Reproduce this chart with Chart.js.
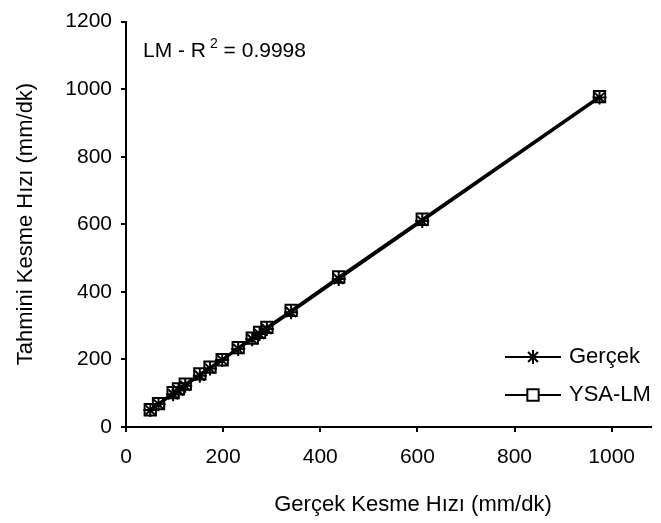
<!DOCTYPE html>
<html>
<head>
<meta charset="utf-8">
<script src="https://cdn.jsdelivr.net/npm/chart.js@4.4.1/dist/chart.umd.min.js"></script>
<style>
  html, body { margin: 0; padding: 0; background: #fff; }
  #wrap { width: 661px; height: 523px; }
</style>
</head>
<body>
<div id="wrap"><canvas id="chart" width="661" height="523"></canvas></div>
<script>
// Data
const actual = [50, 67, 97, 108, 122, 152, 173, 198, 231, 260, 275, 290, 340, 438, 610, 975];
const ysaLM = [51, 69, 102, 113, 127, 157, 177, 199, 235, 263, 280, 295, 345, 444, 615, 978];
const seriesNames = ['Gerçek', 'YSA-LM'];
const xTicks = [0, 200, 400, 600, 800, 1000];
const yTicks = [0, 200, 400, 600, 800, 1000, 1200];
const xTitle = 'Gerçek Kesme Hızı (mm/dk)';
const yTitle = 'Tahmini Kesme Hızı (mm/dk)';

const FONT = '"Liberation Sans", Arial, sans-serif';

// Extra text: R² note, legend, axis titles
const annotations = {
  id: 'annotations',
  afterDraw(chart) {
    const ctx = chart.ctx;
    const area = chart.chartArea;
    ctx.save();
    ctx.fillStyle = '#000';
    ctx.textBaseline = 'middle';

    // R² note
    let x = area.left + 17;
    const y = area.top + 30;
    ctx.font = '21px ' + FONT;
    ctx.textAlign = 'left';
    ctx.fillText('LM - R', x, y);
    x += ctx.measureText('LM - R').width + 4;
    ctx.font = '14px ' + FONT;
    ctx.fillText('2', x, y - 7);
    x += ctx.measureText('2').width;
    ctx.font = '21px ' + FONT;
    ctx.fillText(' = 0.9998', x, y);

    // Legend
    const rows = [
      { label: seriesNames[0], style: 'star', y: 357 },
      { label: seriesNames[1], style: 'rect', y: 395 }
    ];
    rows.forEach(r => {
      ctx.strokeStyle = '#000';
      ctx.lineWidth = 2;
      ctx.beginPath();
      ctx.moveTo(505, r.y);
      ctx.lineTo(561, r.y);
      ctx.stroke();
      ctx.fillStyle = '#fff';
      ctx.lineWidth = 2;
      Chart.helpers.drawPoint(ctx, {
        pointStyle: r.style,
        radius: r.style === 'rect' ? 8 : 7,
        borderWidth: 2
      }, 533, r.y);
      ctx.fillStyle = '#000';
      ctx.font = '22px ' + FONT;
      ctx.fillText(r.label, 569, r.y);
    });

    // Axis titles
    ctx.font = '22px ' + FONT;
    ctx.textAlign = 'center';
    ctx.fillText(xTitle, 413, 505);
    ctx.translate(26, 224);
    ctx.rotate(-Math.PI / 2);
    ctx.fillText(yTitle, 0, 0);
    ctx.restore();
  }
};

new Chart(document.getElementById('chart'), {
  type: 'scatter',
  data: {
    datasets: [
      {
        label: seriesNames[0],
        data: actual.map(v => ({ x: v, y: v })),
        showLine: true,
        borderColor: '#000',
        backgroundColor: '#000',
        borderWidth: 2.5,
        pointStyle: 'star',
        pointRadius: 7,
        pointBorderWidth: 2
      },
      {
        label: seriesNames[1],
        data: actual.map((v, i) => ({ x: v, y: ysaLM[i] })),
        showLine: true,
        borderColor: '#000',
        backgroundColor: 'rgba(0,0,0,0)',
        borderWidth: 2.5,
        pointStyle: 'rect',
        pointRadius: 8,
        pointBorderWidth: 2
      }
    ]
  },
  options: {
    responsive: false,
    animation: false,
    layout: { padding: { top: 20, right: 0, left: 0, bottom: 0 } },
    plugins: { legend: { display: false }, tooltip: { enabled: false } },
    scales: {
      x: {
        type: 'linear',
        min: 0,
        max: 1081,
        afterBuildTicks: s => { s.ticks = xTicks.map(v => ({ value: v })); },
        afterFit: s => { s.height = 96; },
        grid: { drawOnChartArea: false, drawTicks: true, tickLength: 5, color: '#000', lineWidth: 2 },
        border: { color: '#000', width: 2 },
        ticks: { color: '#000', font: { family: FONT, size: 21 }, padding: 13, maxRotation: 0, callback: v => String(v) }
      },
      y: {
        type: 'linear',
        min: 0,
        max: 1200,
        afterBuildTicks: s => { s.ticks = yTicks.map(v => ({ value: v })); },
        afterFit: s => { s.width = 126; },
        grid: { drawOnChartArea: false, drawTicks: true, tickLength: 5, color: '#000', lineWidth: 2 },
        border: { color: '#000', width: 2 },
        ticks: { color: '#000', font: { family: FONT, size: 21 }, padding: 9, callback: v => String(v) }
      }
    }
  },
  plugins: [annotations]
});
</script>
</body>
</html>
